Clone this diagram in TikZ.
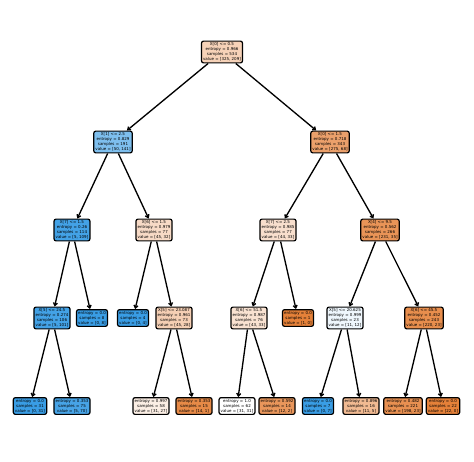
\documentclass[tikz,border=0pt]{standalone}
\usepackage{fontspec}
\setmainfont{DejaVu Sans}
\usetikzlibrary{arrows.meta}
\definecolor{clsa}{RGB}{229,129,57}
\definecolor{clsb}{RGB}{57,157,229}
\tikzset{
  box/.style={draw, line width=0.9pt, rounded corners=1.5pt, align=center,
    inner sep=1.2pt, font=\fontsize{3}{3.75}\selectfont},
  edge/.style={line width=1pt, -{Straight Barb[length=2pt,width=3pt]}}
}
\begin{document}
\begin{tikzpicture}[x=0.75pt,y=-0.75pt]
\useasboundingbox (0,0) rectangle (474,461);
% root and first split
\node[box,fill=clsa!36] (root) at (222,52) {X[0] <= 0.5\\entropy = 0.966\\samples = 534\\value = [325, 209]};
\node[box,fill=clsb!65] (l) at (113,142) {X[1] <= 2.5\\entropy = 0.829\\samples = 191\\value = [50, 141]};
\node[box,fill=clsa!75] (r) at (330,142) {X[0] <= 1.5\\entropy = 0.718\\samples = 343\\value = [275, 68]};
% level 2
\node[box,fill=clsb!95] (ll) at (72,230) {X[7] <= 1.5\\entropy = 0.26\\samples = 114\\value = [5, 109]};
\node[box,fill=clsa!29] (lr) at (154,230) {X[6] <= 1.5\\entropy = 0.979\\samples = 77\\value = [45, 32]};
\node[box,fill=clsa!25] (rl) at (278,230) {X[7] <= 2.5\\entropy = 0.985\\samples = 77\\value = [44, 33]};
\node[box,fill=clsa!85] (rr) at (380,230) {X[4] <= 9.5\\entropy = 0.562\\samples = 266\\value = [231, 35]};
% level 3
\node[box,fill=clsb!95] (lll) at (52,318) {X[5] <= 24.5\\entropy = 0.274\\samples = 106\\value = [5, 101]};
\node[box,fill=clsb] (llr) at (92,318) {entropy = 0.0\\samples = 8\\value = [0, 8]};
\node[box,fill=clsb] (lrl) at (133,318) {entropy = 0.0\\samples = 4\\value = [0, 4]};
\node[box,fill=clsa!38] (lrr) at (174,318) {X[5] <= 23.087\\entropy = 0.961\\samples = 73\\value = [45, 28]};
\node[box,fill=clsa!23] (rll) at (249,318) {X[6] <= 51.5\\entropy = 0.987\\samples = 76\\value = [43, 33]};
\node[box,fill=clsa] (rlr) at (298,318) {entropy = 0.0\\samples = 1\\value = [1, 0]};
\node[box,fill=clsb!8] (rrl) at (345,318) {X[5] <= 20.625\\entropy = 0.999\\samples = 23\\value = [11, 12]};
\node[box,fill=clsa!90] (rrr) at (424,318) {X[6] <= 45.5\\entropy = 0.452\\samples = 243\\value = [220, 23]};
% leaves
\node[box,fill=clsb] (a1) at (30,406) {entropy = 0.0\\samples = 31\\value = [0, 31]};
\node[box,fill=clsb!93] (a2) at (72,406) {entropy = 0.353\\samples = 75\\value = [5, 70]};
\node[box,fill=clsa!13] (a3) at (151,406) {entropy = 0.997\\samples = 58\\value = [31, 27]};
\node[box,fill=clsa!93] (a4) at (194,406) {entropy = 0.353\\samples = 15\\value = [14, 1]};
\node[box,fill=white] (a5) at (237,406) {entropy = 1.0\\samples = 62\\value = [31, 31]};
\node[box,fill=clsa!83] (a6) at (277,406) {entropy = 0.592\\samples = 14\\value = [12, 2]};
\node[box,fill=clsb] (a7) at (318,406) {entropy = 0.0\\samples = 7\\value = [0, 7]};
\node[box,fill=clsa!55] (a8) at (361,406) {entropy = 0.896\\samples = 16\\value = [11, 5]};
\node[box,fill=clsa!88] (a9) at (403,406) {entropy = 0.482\\samples = 221\\value = [198, 23]};
\node[box,fill=clsa] (a10) at (443,406) {entropy = 0.0\\samples = 22\\value = [22, 0]};
% edges
\draw[edge] (root) -- (l);
\draw[edge] (root) -- (r);
\draw[edge] (l) -- (ll);
\draw[edge] (l) -- (lr);
\draw[edge] (r) -- (rl);
\draw[edge] (r) -- (rr);
\draw[edge] (ll) -- (lll);
\draw[edge] (ll) -- (llr);
\draw[edge] (lr) -- (lrl);
\draw[edge] (lr) -- (lrr);
\draw[edge] (rl) -- (rll);
\draw[edge] (rl) -- (rlr);
\draw[edge] (rr) -- (rrl);
\draw[edge] (rr) -- (rrr);
\draw[edge] (lll) -- (a1);
\draw[edge] (lll) -- (a2);
\draw[edge] (lrr) -- (a3);
\draw[edge] (lrr) -- (a4);
\draw[edge] (rll) -- (a5);
\draw[edge] (rll) -- (a6);
\draw[edge] (rrl) -- (a7);
\draw[edge] (rrl) -- (a8);
\draw[edge] (rrr) -- (a9);
\draw[edge] (rrr) -- (a10);
\end{tikzpicture}
\end{document}
